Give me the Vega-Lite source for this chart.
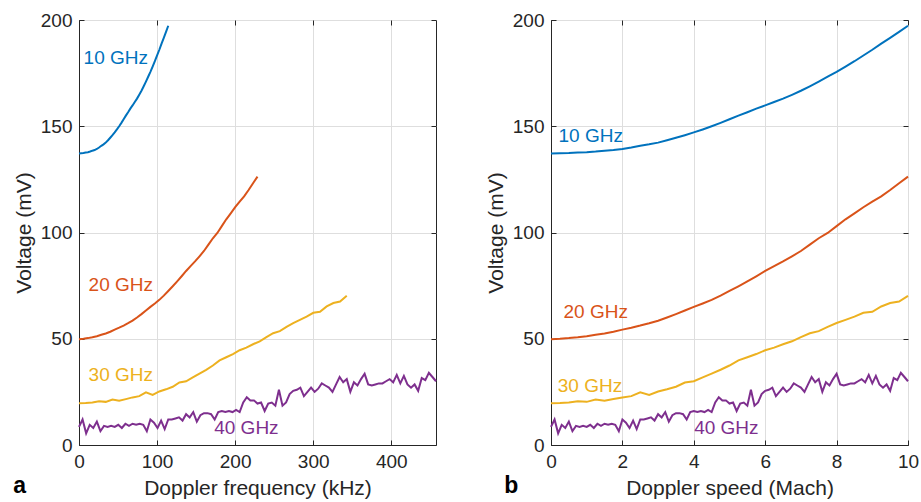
{
  "$schema": "https://vega.github.io/schema/vega-lite/v6.json",
  "background": "white",
  "padding": {"left": 12, "top": 10, "right": 5, "bottom": 5},
  "spacing": 43,
  "datasets": {
    "labels": [
      {"series": "10 GHz", "khz": 5.9, "mv_a": 179.1, "mach": 0.21, "mv_b": 142.6},
      {"series": "20 GHz", "khz": 12.3, "mv_a": 72.5, "mach": 0.35, "mv_b": 59.6},
      {"series": "30 GHz", "khz": 12.3, "mv_a": 30.2, "mach": 0.19, "mv_b": 25.1},
      {"series": "40 GHz", "khz": 173.2, "mv_a": 5.2, "mach": 4.01, "mv_b": 5.2}
    ],
    "curves": [
      {"series":"10 GHz","mach":0,"khz":0,"mv":137.2},
      {"series":"10 GHz","mach":0.25,"khz":2.86,"mv":137.3},
      {"series":"10 GHz","mach":0.5,"khz":5.72,"mv":137.4},
      {"series":"10 GHz","mach":0.75,"khz":8.57,"mv":137.6},
      {"series":"10 GHz","mach":1,"khz":11.43,"mv":137.8},
      {"series":"10 GHz","mach":1.25,"khz":14.29,"mv":138.1},
      {"series":"10 GHz","mach":1.5,"khz":17.15,"mv":138.5},
      {"series":"10 GHz","mach":1.75,"khz":20.01,"mv":138.8},
      {"series":"10 GHz","mach":2,"khz":22.87,"mv":139.3},
      {"series":"10 GHz","mach":2.25,"khz":25.72,"mv":140.0},
      {"series":"10 GHz","mach":2.5,"khz":28.58,"mv":140.8},
      {"series":"10 GHz","mach":2.75,"khz":31.44,"mv":141.5},
      {"series":"10 GHz","mach":3,"khz":34.30,"mv":142.3},
      {"series":"10 GHz","mach":3.25,"khz":37.16,"mv":143.4},
      {"series":"10 GHz","mach":3.5,"khz":40.02,"mv":144.6},
      {"series":"10 GHz","mach":3.75,"khz":42.87,"mv":145.8},
      {"series":"10 GHz","mach":4,"khz":45.73,"mv":147.1},
      {"series":"10 GHz","mach":4.25,"khz":48.59,"mv":148.5},
      {"series":"10 GHz","mach":4.5,"khz":51.45,"mv":150.0},
      {"series":"10 GHz","mach":4.75,"khz":54.31,"mv":151.6},
      {"series":"10 GHz","mach":5,"khz":57.17,"mv":153.3},
      {"series":"10 GHz","mach":5.25,"khz":60.02,"mv":155.0},
      {"series":"10 GHz","mach":5.5,"khz":62.88,"mv":156.6},
      {"series":"10 GHz","mach":5.75,"khz":65.74,"mv":158.3},
      {"series":"10 GHz","mach":6,"khz":68.60,"mv":159.8},
      {"series":"10 GHz","mach":6.25,"khz":71.46,"mv":161.4},
      {"series":"10 GHz","mach":6.5,"khz":74.32,"mv":163.0},
      {"series":"10 GHz","mach":6.75,"khz":77.17,"mv":164.8},
      {"series":"10 GHz","mach":7,"khz":80.03,"mv":166.7},
      {"series":"10 GHz","mach":7.25,"khz":82.89,"mv":168.8},
      {"series":"10 GHz","mach":7.5,"khz":85.75,"mv":171.0},
      {"series":"10 GHz","mach":7.75,"khz":88.61,"mv":173.3},
      {"series":"10 GHz","mach":8,"khz":91.46,"mv":175.6},
      {"series":"10 GHz","mach":8.25,"khz":94.32,"mv":178.1},
      {"series":"10 GHz","mach":8.5,"khz":97.18,"mv":180.6},
      {"series":"10 GHz","mach":8.75,"khz":100.04,"mv":183.3},
      {"series":"10 GHz","mach":9,"khz":102.90,"mv":186.0},
      {"series":"10 GHz","mach":9.25,"khz":105.76,"mv":188.9},
      {"series":"10 GHz","mach":9.5,"khz":108.61,"mv":191.6},
      {"series":"10 GHz","mach":9.75,"khz":111.47,"mv":194.4},
      {"series":"10 GHz","mach":10,"khz":114.33,"mv":197.3},
      {"series":"20 GHz","mach":0,"khz":0,"mv":49.8},
      {"series":"20 GHz","mach":0.25,"khz":5.72,"mv":50.0},
      {"series":"20 GHz","mach":0.5,"khz":11.43,"mv":50.3},
      {"series":"20 GHz","mach":0.75,"khz":17.15,"mv":50.7},
      {"series":"20 GHz","mach":1,"khz":22.87,"mv":51.2},
      {"series":"20 GHz","mach":1.25,"khz":28.58,"mv":51.9},
      {"series":"20 GHz","mach":1.5,"khz":34.30,"mv":52.5},
      {"series":"20 GHz","mach":1.75,"khz":40.02,"mv":53.3},
      {"series":"20 GHz","mach":2,"khz":45.73,"mv":54.3},
      {"series":"20 GHz","mach":2.25,"khz":51.45,"mv":55.2},
      {"series":"20 GHz","mach":2.5,"khz":57.17,"mv":56.2},
      {"series":"20 GHz","mach":2.75,"khz":62.88,"mv":57.3},
      {"series":"20 GHz","mach":3,"khz":68.60,"mv":58.5},
      {"series":"20 GHz","mach":3.25,"khz":74.31,"mv":60.0},
      {"series":"20 GHz","mach":3.5,"khz":80.03,"mv":61.6},
      {"series":"20 GHz","mach":3.75,"khz":85.75,"mv":63.3},
      {"series":"20 GHz","mach":4,"khz":91.46,"mv":65.0},
      {"series":"20 GHz","mach":4.25,"khz":97.18,"mv":66.6},
      {"series":"20 GHz","mach":4.5,"khz":102.90,"mv":68.3},
      {"series":"20 GHz","mach":4.75,"khz":108.61,"mv":70.3},
      {"series":"20 GHz","mach":5,"khz":114.33,"mv":72.5},
      {"series":"20 GHz","mach":5.25,"khz":120.05,"mv":74.7},
      {"series":"20 GHz","mach":5.5,"khz":125.76,"mv":77.0},
      {"series":"20 GHz","mach":5.75,"khz":131.48,"mv":79.4},
      {"series":"20 GHz","mach":6,"khz":137.20,"mv":81.9},
      {"series":"20 GHz","mach":6.25,"khz":142.91,"mv":84.2},
      {"series":"20 GHz","mach":6.5,"khz":148.63,"mv":86.4},
      {"series":"20 GHz","mach":6.75,"khz":154.35,"mv":88.8},
      {"series":"20 GHz","mach":7,"khz":160.06,"mv":91.3},
      {"series":"20 GHz","mach":7.25,"khz":165.78,"mv":94.3},
      {"series":"20 GHz","mach":7.5,"khz":171.50,"mv":97.3},
      {"series":"20 GHz","mach":7.75,"khz":177.21,"mv":99.8},
      {"series":"20 GHz","mach":8,"khz":182.93,"mv":103.0},
      {"series":"20 GHz","mach":8.25,"khz":188.64,"mv":106.2},
      {"series":"20 GHz","mach":8.5,"khz":194.36,"mv":109.0},
      {"series":"20 GHz","mach":8.75,"khz":200.08,"mv":111.9},
      {"series":"20 GHz","mach":9,"khz":205.79,"mv":114.5},
      {"series":"20 GHz","mach":9.25,"khz":211.51,"mv":117.0},
      {"series":"20 GHz","mach":9.5,"khz":217.23,"mv":120.0},
      {"series":"20 GHz","mach":9.75,"khz":222.94,"mv":123.2},
      {"series":"20 GHz","mach":10,"khz":228.66,"mv":126.3},
      {"series":"30 GHz","mach":0,"khz":0,"mv":19.7},
      {"series":"30 GHz","mach":0.25,"khz":8.57,"mv":19.8},
      {"series":"30 GHz","mach":0.5,"khz":17.15,"mv":20.0},
      {"series":"30 GHz","mach":0.75,"khz":25.72,"mv":20.6},
      {"series":"30 GHz","mach":1,"khz":34.30,"mv":20.3},
      {"series":"30 GHz","mach":1.25,"khz":42.87,"mv":21.4},
      {"series":"30 GHz","mach":1.5,"khz":51.45,"mv":20.8},
      {"series":"30 GHz","mach":1.75,"khz":60.02,"mv":21.6},
      {"series":"30 GHz","mach":2,"khz":68.60,"mv":22.4},
      {"series":"30 GHz","mach":2.25,"khz":77.17,"mv":23.0},
      {"series":"30 GHz","mach":2.5,"khz":85.75,"mv":24.8},
      {"series":"30 GHz","mach":2.75,"khz":94.32,"mv":23.6},
      {"series":"30 GHz","mach":3,"khz":102.90,"mv":25.2},
      {"series":"30 GHz","mach":3.25,"khz":111.47,"mv":26.2},
      {"series":"30 GHz","mach":3.5,"khz":120.05,"mv":27.4},
      {"series":"30 GHz","mach":3.75,"khz":128.62,"mv":29.4},
      {"series":"30 GHz","mach":4,"khz":137.20,"mv":30.0},
      {"series":"30 GHz","mach":4.25,"khz":145.77,"mv":31.8},
      {"series":"30 GHz","mach":4.5,"khz":154.35,"mv":33.6},
      {"series":"30 GHz","mach":4.75,"khz":162.92,"mv":35.4},
      {"series":"30 GHz","mach":5,"khz":171.50,"mv":37.4},
      {"series":"30 GHz","mach":5.25,"khz":180.07,"mv":39.8},
      {"series":"30 GHz","mach":5.5,"khz":188.65,"mv":41.3},
      {"series":"30 GHz","mach":5.75,"khz":197.22,"mv":42.8},
      {"series":"30 GHz","mach":6,"khz":205.79,"mv":44.6},
      {"series":"30 GHz","mach":6.25,"khz":214.37,"mv":45.8},
      {"series":"30 GHz","mach":6.5,"khz":222.94,"mv":47.4},
      {"series":"30 GHz","mach":6.75,"khz":231.52,"mv":48.8},
      {"series":"30 GHz","mach":7,"khz":240.09,"mv":50.8},
      {"series":"30 GHz","mach":7.25,"khz":248.67,"mv":52.6},
      {"series":"30 GHz","mach":7.5,"khz":257.24,"mv":53.6},
      {"series":"30 GHz","mach":7.75,"khz":265.82,"mv":55.6},
      {"series":"30 GHz","mach":8,"khz":274.39,"mv":57.4},
      {"series":"30 GHz","mach":8.25,"khz":282.97,"mv":58.9},
      {"series":"30 GHz","mach":8.5,"khz":291.54,"mv":60.4},
      {"series":"30 GHz","mach":8.75,"khz":300.12,"mv":62.2},
      {"series":"30 GHz","mach":9,"khz":308.69,"mv":62.7},
      {"series":"30 GHz","mach":9.25,"khz":317.27,"mv":65.2},
      {"series":"30 GHz","mach":9.5,"khz":325.84,"mv":66.8},
      {"series":"30 GHz","mach":9.75,"khz":334.42,"mv":67.5},
      {"series":"30 GHz","mach":10,"khz":342.99,"mv":70.2},
      {"series":"40 GHz","mach":0,"khz":0,"mv":8.5},
      {"series":"40 GHz","mach":0.1,"khz":4.57,"mv":12},
      {"series":"40 GHz","mach":0.2,"khz":9.15,"mv":5.5},
      {"series":"40 GHz","mach":0.3,"khz":13.72,"mv":9.5},
      {"series":"40 GHz","mach":0.4,"khz":18.29,"mv":8},
      {"series":"40 GHz","mach":0.5,"khz":22.87,"mv":11},
      {"series":"40 GHz","mach":0.6,"khz":27.44,"mv":6.5},
      {"series":"40 GHz","mach":0.7,"khz":32.01,"mv":9},
      {"series":"40 GHz","mach":0.8,"khz":36.59,"mv":8.5},
      {"series":"40 GHz","mach":0.9,"khz":41.16,"mv":9},
      {"series":"40 GHz","mach":1.0,"khz":45.73,"mv":8.5},
      {"series":"40 GHz","mach":1.1,"khz":50.31,"mv":9.5},
      {"series":"40 GHz","mach":1.2,"khz":54.88,"mv":8},
      {"series":"40 GHz","mach":1.3,"khz":59.45,"mv":10},
      {"series":"40 GHz","mach":1.4,"khz":64.02,"mv":9},
      {"series":"40 GHz","mach":1.5,"khz":68.60,"mv":10},
      {"series":"40 GHz","mach":1.6,"khz":73.17,"mv":9.5},
      {"series":"40 GHz","mach":1.7,"khz":77.74,"mv":10},
      {"series":"40 GHz","mach":1.8,"khz":82.32,"mv":9.5},
      {"series":"40 GHz","mach":1.9,"khz":86.89,"mv":6.5},
      {"series":"40 GHz","mach":2.0,"khz":91.46,"mv":12},
      {"series":"40 GHz","mach":2.1,"khz":96.04,"mv":10.5},
      {"series":"40 GHz","mach":2.2,"khz":100.61,"mv":8},
      {"series":"40 GHz","mach":2.3,"khz":105.18,"mv":11.5},
      {"series":"40 GHz","mach":2.4,"khz":109.76,"mv":7.5},
      {"series":"40 GHz","mach":2.5,"khz":114.33,"mv":12},
      {"series":"40 GHz","mach":2.6,"khz":118.90,"mv":12},
      {"series":"40 GHz","mach":2.7,"khz":123.48,"mv":12.5},
      {"series":"40 GHz","mach":2.8,"khz":128.05,"mv":13},
      {"series":"40 GHz","mach":2.9,"khz":132.62,"mv":11.5},
      {"series":"40 GHz","mach":3.0,"khz":137.20,"mv":14.5},
      {"series":"40 GHz","mach":3.1,"khz":141.77,"mv":13},
      {"series":"40 GHz","mach":3.2,"khz":146.34,"mv":15.5},
      {"series":"40 GHz","mach":3.3,"khz":150.92,"mv":11},
      {"series":"40 GHz","mach":3.4,"khz":155.49,"mv":14},
      {"series":"40 GHz","mach":3.5,"khz":160.06,"mv":15},
      {"series":"40 GHz","mach":3.6,"khz":164.64,"mv":15},
      {"series":"40 GHz","mach":3.7,"khz":169.21,"mv":14.5},
      {"series":"40 GHz","mach":3.8,"khz":173.78,"mv":12},
      {"series":"40 GHz","mach":3.9,"khz":178.35,"mv":15.5},
      {"series":"40 GHz","mach":4.0,"khz":182.93,"mv":16},
      {"series":"40 GHz","mach":4.1,"khz":187.50,"mv":15.5},
      {"series":"40 GHz","mach":4.2,"khz":192.07,"mv":16},
      {"series":"40 GHz","mach":4.3,"khz":196.65,"mv":15.5},
      {"series":"40 GHz","mach":4.4,"khz":201.22,"mv":16.5},
      {"series":"40 GHz","mach":4.5,"khz":205.79,"mv":15.5},
      {"series":"40 GHz","mach":4.6,"khz":210.37,"mv":20},
      {"series":"40 GHz","mach":4.7,"khz":214.94,"mv":22.5},
      {"series":"40 GHz","mach":4.8,"khz":219.51,"mv":21},
      {"series":"40 GHz","mach":4.9,"khz":224.09,"mv":21},
      {"series":"40 GHz","mach":5.0,"khz":228.66,"mv":19.5},
      {"series":"40 GHz","mach":5.1,"khz":233.23,"mv":20},
      {"series":"40 GHz","mach":5.2,"khz":237.81,"mv":16},
      {"series":"40 GHz","mach":5.3,"khz":242.38,"mv":19.5},
      {"series":"40 GHz","mach":5.4,"khz":246.95,"mv":20},
      {"series":"40 GHz","mach":5.5,"khz":251.53,"mv":18.5},
      {"series":"40 GHz","mach":5.6,"khz":256.10,"mv":26},
      {"series":"40 GHz","mach":5.7,"khz":260.67,"mv":18.5},
      {"series":"40 GHz","mach":5.8,"khz":265.25,"mv":20},
      {"series":"40 GHz","mach":5.9,"khz":269.82,"mv":24},
      {"series":"40 GHz","mach":6.0,"khz":274.39,"mv":25.5},
      {"series":"40 GHz","mach":6.1,"khz":278.97,"mv":26},
      {"series":"40 GHz","mach":6.2,"khz":283.54,"mv":27},
      {"series":"40 GHz","mach":6.3,"khz":288.11,"mv":23},
      {"series":"40 GHz","mach":6.4,"khz":292.68,"mv":25},
      {"series":"40 GHz","mach":6.5,"khz":297.26,"mv":27},
      {"series":"40 GHz","mach":6.6,"khz":301.83,"mv":25},
      {"series":"40 GHz","mach":6.7,"khz":306.40,"mv":26.5},
      {"series":"40 GHz","mach":6.8,"khz":310.98,"mv":29},
      {"series":"40 GHz","mach":6.9,"khz":315.55,"mv":28},
      {"series":"40 GHz","mach":7.0,"khz":320.12,"mv":27},
      {"series":"40 GHz","mach":7.1,"khz":324.70,"mv":25},
      {"series":"40 GHz","mach":7.2,"khz":329.27,"mv":28.5},
      {"series":"40 GHz","mach":7.3,"khz":333.84,"mv":32},
      {"series":"40 GHz","mach":7.4,"khz":338.42,"mv":29.5},
      {"series":"40 GHz","mach":7.5,"khz":342.99,"mv":31},
      {"series":"40 GHz","mach":7.6,"khz":347.56,"mv":25},
      {"series":"40 GHz","mach":7.7,"khz":352.14,"mv":29.5},
      {"series":"40 GHz","mach":7.8,"khz":356.71,"mv":28},
      {"series":"40 GHz","mach":7.9,"khz":361.28,"mv":31},
      {"series":"40 GHz","mach":8.0,"khz":365.86,"mv":33.5},
      {"series":"40 GHz","mach":8.1,"khz":370.43,"mv":28.5},
      {"series":"40 GHz","mach":8.2,"khz":375.00,"mv":28},
      {"series":"40 GHz","mach":8.3,"khz":379.58,"mv":28.5},
      {"series":"40 GHz","mach":8.4,"khz":384.15,"mv":29},
      {"series":"40 GHz","mach":8.5,"khz":388.72,"mv":29},
      {"series":"40 GHz","mach":8.6,"khz":393.30,"mv":30},
      {"series":"40 GHz","mach":8.7,"khz":397.87,"mv":31},
      {"series":"40 GHz","mach":8.8,"khz":402.44,"mv":29.5},
      {"series":"40 GHz","mach":8.9,"khz":407.01,"mv":33},
      {"series":"40 GHz","mach":9.0,"khz":411.59,"mv":29},
      {"series":"40 GHz","mach":9.1,"khz":416.16,"mv":32.5},
      {"series":"40 GHz","mach":9.2,"khz":420.73,"mv":28.5},
      {"series":"40 GHz","mach":9.3,"khz":425.31,"mv":27},
      {"series":"40 GHz","mach":9.4,"khz":429.88,"mv":28.5},
      {"series":"40 GHz","mach":9.5,"khz":434.45,"mv":25.5},
      {"series":"40 GHz","mach":9.6,"khz":439.03,"mv":31.5},
      {"series":"40 GHz","mach":9.7,"khz":443.60,"mv":30.5},
      {"series":"40 GHz","mach":9.8,"khz":448.17,"mv":34},
      {"series":"40 GHz","mach":9.9,"khz":452.75,"mv":32},
      {"series":"40 GHz","mach":10.0,"khz":457.32,"mv":30}
    ]
  },
  "hconcat": [
    {
      "width": 357,
      "height": 425,
      "title": {"text": "a", "orient": "bottom", "anchor": "start", "frame": "bounds", "fontSize": 23, "fontWeight": "bold", "color": "#000000", "offset": -23, "dx": 0},
      "layer": [
        {
          "data": {"name": "curves"},
          "mark": {"type": "line", "strokeWidth": 2},
          "encoding": {
            "x": {"field": "khz", "type": "quantitative", "scale": {"domain": [0, 457.3], "nice": false, "zero": false}, "axis": {"values": [0, 100, 200, 300, 400], "title": "Doppler frequency (kHz)", "orient": "bottom"}},
            "y": {"field": "mv", "type": "quantitative", "scale": {"domain": [0, 200], "nice": false}, "axis": {"values": [0, 50, 100, 150, 200], "title": "Voltage (mV)", "orient": "left"}},
            "color": {"field": "series", "type": "nominal", "scale": {"domain": ["10 GHz", "20 GHz", "30 GHz", "40 GHz"], "range": ["#0072BD", "#D95319", "#EDB120", "#7E2F8E"]}, "legend": null},
            "order": {"field": "khz", "type": "quantitative"}
          }
        },
        {
          "data": {"name": "labels"},
          "mark": {"type": "text", "align": "left", "baseline": "alphabetic", "fontSize": 19},
          "encoding": {
            "x": {"field": "khz", "type": "quantitative", "axis": {"orient": "top", "values": [0, 100, 200, 300, 400], "labels": false, "grid": false, "domain": false, "title": null}},
            "y": {"field": "mv_a", "type": "quantitative", "axis": {"orient": "right", "values": [0, 50, 100, 150, 200], "labels": false, "grid": false, "domain": false, "title": null}},
            "text": {"field": "series"},
            "color": {"field": "series", "type": "nominal", "legend": null}
          }
        }
      ],
      "resolve": {"axis": {"x": "independent", "y": "independent"}}
    },
    {
      "width": 357,
      "height": 425,
      "title": {"text": "b", "orient": "bottom", "anchor": "start", "frame": "bounds", "fontSize": 23, "fontWeight": "bold", "color": "#000000", "offset": -23, "dx": 19},
      "layer": [
        {
          "data": {"name": "curves"},
          "mark": {"type": "line", "strokeWidth": 2},
          "encoding": {
            "x": {"field": "mach", "type": "quantitative", "scale": {"domain": [0, 10], "nice": false, "zero": false}, "axis": {"values": [0, 2, 4, 6, 8, 10], "title": "Doppler speed (Mach)", "orient": "bottom"}},
            "y": {"field": "mv", "type": "quantitative", "scale": {"domain": [0, 200], "nice": false}, "axis": {"values": [0, 50, 100, 150, 200], "title": "Voltage (mV)", "orient": "left"}},
            "color": {"field": "series", "type": "nominal", "scale": {"domain": ["10 GHz", "20 GHz", "30 GHz", "40 GHz"], "range": ["#0072BD", "#D95319", "#EDB120", "#7E2F8E"]}, "legend": null},
            "order": {"field": "mach", "type": "quantitative"}
          }
        },
        {
          "data": {"name": "labels"},
          "mark": {"type": "text", "align": "left", "baseline": "alphabetic", "fontSize": 19},
          "encoding": {
            "x": {"field": "mach", "type": "quantitative", "axis": {"orient": "top", "values": [0, 2, 4, 6, 8, 10], "labels": false, "grid": false, "domain": false, "title": null}},
            "y": {"field": "mv_b", "type": "quantitative", "axis": {"orient": "right", "values": [0, 50, 100, 150, 200], "labels": false, "grid": false, "domain": false, "title": null}},
            "text": {"field": "series"},
            "color": {"field": "series", "type": "nominal", "legend": null}
          }
        }
      ],
      "resolve": {"axis": {"x": "independent", "y": "independent"}}
    }
  ],
  "config": {
    "font": "Liberation Sans",
    "view": {"stroke": "#262626", "strokeWidth": 1},
    "axis": {
      "labelFont": "Liberation Sans",
      "labelFontSize": 19,
      "labelColor": "#262626",
      "labelFlush": false,
      "titleFont": "Liberation Sans",
      "titleFontSize": 21,
      "titleFontWeight": "normal",
      "titleColor": "#262626",
      "titlePadding": 6,
      "domainColor": "#262626",
      "tickColor": "#262626",
      "tickSize": -5,
      "labelPadding": 12,
      "grid": true,
      "gridColor": "#dedede",
      "gridWidth": 1
    }
  }
}
